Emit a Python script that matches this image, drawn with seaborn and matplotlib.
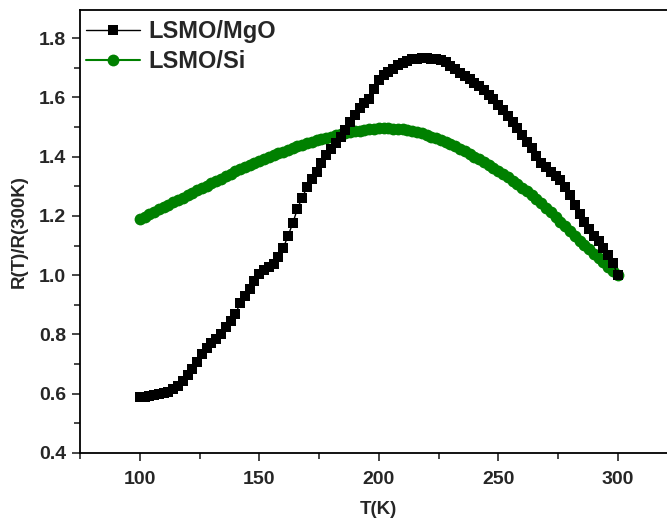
import numpy as np
import pandas as pd
import matplotlib
matplotlib.use("Agg")
import matplotlib.pyplot as plt
import seaborn as sns
from matplotlib.ticker import MultipleLocator

# ---- data ----
T = list(range(100, 301, 2))

mgo = [0.588, 0.590, 0.592, 0.595, 0.598, 0.601, 0.607, 0.615, 0.625, 0.642,
       0.662, 0.683, 0.708, 0.734, 0.754, 0.772, 0.785, 0.800, 0.824, 0.846,
       0.869, 0.905, 0.930, 0.954, 0.982, 1.003, 1.017, 1.028, 1.039, 1.062,
       1.091, 1.132, 1.175, 1.225, 1.262, 1.297, 1.325, 1.349, 1.378, 1.407,
       1.427, 1.446, 1.468, 1.490, 1.516, 1.540, 1.563, 1.580, 1.596, 1.630,
       1.660, 1.676, 1.687, 1.697, 1.708, 1.717, 1.724, 1.729, 1.731, 1.732,
       1.732, 1.731, 1.729, 1.725, 1.718, 1.707, 1.695, 1.684, 1.672, 1.661,
       1.649, 1.637, 1.625, 1.609, 1.593, 1.576, 1.557, 1.538, 1.517, 1.496,
       1.474, 1.450, 1.428, 1.401, 1.380, 1.365, 1.349, 1.336, 1.322, 1.298,
       1.270, 1.238, 1.208, 1.181, 1.155, 1.132, 1.115, 1.092, 1.068, 1.040,
       1.000]

si = [1.190, 1.198, 1.206, 1.214, 1.222, 1.230, 1.238, 1.246, 1.254, 1.262,
      1.270, 1.278, 1.286, 1.294, 1.302, 1.310, 1.318, 1.326, 1.334, 1.342,
      1.350, 1.357, 1.364, 1.371, 1.378, 1.385, 1.392, 1.399, 1.405, 1.411,
      1.417, 1.423, 1.429, 1.435, 1.440, 1.445, 1.450, 1.455, 1.460, 1.464,
      1.468, 1.472, 1.476, 1.479, 1.482, 1.485, 1.488, 1.491, 1.493, 1.495,
      1.496, 1.496, 1.496, 1.495, 1.494, 1.492, 1.490, 1.487, 1.483, 1.479,
      1.474, 1.468, 1.462, 1.456, 1.449, 1.442, 1.435, 1.427, 1.418, 1.409,
      1.400, 1.391, 1.382, 1.372, 1.362, 1.352, 1.342, 1.331, 1.319, 1.307,
      1.295, 1.283, 1.270, 1.256, 1.242, 1.227, 1.212, 1.197, 1.181, 1.165,
      1.149, 1.133, 1.117, 1.102, 1.087, 1.072, 1.057, 1.043, 1.028, 1.014,
      1.000]

labels = ["LSMO/MgO", "LSMO/Si"]
xticks = [100, 150, 200, 250, 300]
yticks = [0.4, 0.6, 0.8, 1.0, 1.2, 1.4, 1.6, 1.8]

df_mgo = pd.DataFrame({"T": T, "R": mgo})
df_si = pd.DataFrame({"T": T, "R": si})

sns.set_style("ticks")
plt.rcParams["font.family"] = ["Liberation Sans", "DejaVu Sans"]
plt.rcParams["font.weight"] = "bold"

fig = plt.figure(figsize=(6.67, 5.19), dpi=100)
W, H = 667, 519
x0, x1 = 80, 677.5
y0, y1 = 453, 10
ax = fig.add_axes([x0 / W, 1 - y0 / H, (x1 - x0) / W, (y0 - y1) / H])

sns.lineplot(data=df_si, x="T", y="R", ax=ax, color="#008000", marker="o",
             markersize=8.5, markeredgewidth=0, linewidth=1.5, label=labels[1])
sns.lineplot(data=df_mgo, x="T", y="R", ax=ax, color="black", marker="s",
             markersize=6.5, markeredgewidth=0, linewidth=1.0, label=labels[0])

ax.set_xlim(75, 325)
ax.set_ylim(0.4, 1.895)
ax.set_xticks(xticks)
ax.set_yticks(yticks)
ax.xaxis.set_minor_locator(MultipleLocator(25))
ax.yaxis.set_minor_locator(MultipleLocator(0.1))
ax.set_yticklabels([f"{v:.1f}" for v in yticks])

for s in ax.spines.values():
    s.set_linewidth(1.3)
    s.set_color("black")

ax.tick_params(axis="both", which="major", direction="out", length=6, width=1.2,
               labelsize=14, pad=4, top=False, right=False)
ax.tick_params(axis="x", which="major", pad=7)
ax.tick_params(axis="both", which="minor", direction="out", length=4, width=1.2,
               top=False, right=False)
for lab in ax.get_xticklabels() + ax.get_yticklabels():
    lab.set_fontweight("bold")

ax.set_xlabel("T(K)", fontsize=13.5, fontweight="bold", labelpad=9)
ax.set_ylabel("R(T)/R(300K)", fontsize=13.5, fontweight="bold", labelpad=8)

handles, labs = ax.get_legend_handles_labels()
order = [labs.index(labels[0]), labs.index(labels[1])]
leg = ax.legend([handles[i] for i in order], [labs[i] for i in order],
                loc="upper left", frameon=False,
                prop={"weight": "bold", "size": 17}, handlelength=2.3,
                handletextpad=0.35, borderaxespad=0.0, borderpad=0.25,
                labelspacing=0.3, bbox_to_anchor=(0.0, 0.99))

fig.savefig("out.png", dpi=100)
